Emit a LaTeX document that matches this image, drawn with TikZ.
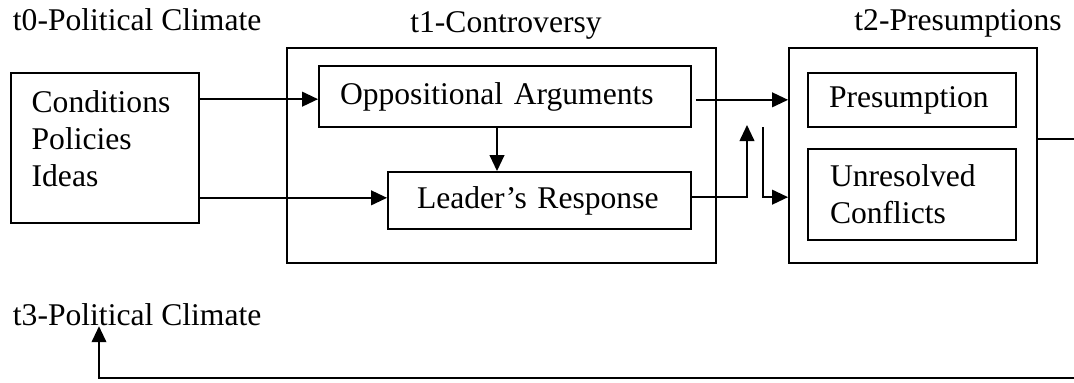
\documentclass[tikz,border=0pt]{standalone}
\usepackage{fontspec}
\setmainfont{Liberation Serif}
\usetikzlibrary{arrows.meta,positioning,calc}

\begin{document}
\begin{tikzpicture}[x=0.75pt,y=-0.75pt,line width=1.4pt,
    box/.style={draw,line width=1.4pt,inner sep=0pt,align=left,
        font=\fontsize{23.7}{28}\selectfont},
    title/.style={inner sep=0pt,font=\fontsize{23.7}{28}\selectfont},
    arr/.style={-{Triangle[length=12pt,width=11pt]}}]
    \useasboundingbox (0,0) rectangle (1074,382);

    % t0
    \node[title,anchor=base west] (t0lab) at (12,30) {t0-Political Climate};
    \node[box,minimum width=141pt,minimum height=112.5pt,text width=110pt] (cond) at (105,148)
        {Conditions\\Policies\\Ideas\rule[-14pt]{0pt}{0pt}};

    % t1
    \node[title,anchor=base] (t1lab) at (506,32) {t1-Controversy};
    \node[box,minimum width=321.75pt,minimum height=161.25pt] (t1) at (501.5,155.5) {};
    \node[box,minimum width=279pt,minimum height=45.75pt,text width=247.5pt] (opp) at (505,96.5)
        {Oppositional Arguments};
    \node[box,minimum width=227.25pt,minimum height=42.75pt,text width=183.75pt] (lead) at (539.5,200.5)
        {Leader’s Response};

    % t2
    \node[title,anchor=base] (t2lab) at (958,30) {t2-Presumptions};
    \node[box,minimum width=186pt,minimum height=161.25pt] (t2) at (913,155.5) {};
    \node[box,minimum width=156pt,minimum height=40.5pt,text width=124.5pt] (pres) at (912,100)
        {Presumption};
    \node[box,minimum width=156pt,minimum height=68.25pt,text width=123pt] (unres) at (912,194.5)
        {Unresolved\\Conflicts};

    % t3
    \node[title,anchor=base west] (t3lab) at (12,325) {t3-Political Climate};

    % connectors
    \draw[arr] ([yshift=-2pt]opp.west -| cond.east) -- ([yshift=-2pt]opp.west);
    \draw[arr] ([yshift=2pt]lead.west -| cond.east) -- ([yshift=2pt]lead.west);
    \draw[arr] ([xshift=-6pt]opp.south) -- ([xshift=-6pt]opp.south |- lead.north);
    \draw[arr] ([xshift=3pt,yshift=-2.5pt]opp.east) -- ([yshift=-2.5pt]opp.east -| t2.west);

    \coordinate (upend) at (747,125);
    \draw[arr] ([yshift=2.5pt]lead.east) -| (upend);
    \coordinate (dnstart) at (763,127);
    \draw[arr] (dnstart) |- ([yshift=-2pt]unres.west -| t2.west);

    \coordinate (fbR) at (1080,378);
    \coordinate (fbL) at (99,378);
    \draw[arr] ([yshift=12.4pt]t2.east) -| (fbR) -- (fbL) -- (fbL |- t3lab.south);
\end{tikzpicture}
\end{document}
